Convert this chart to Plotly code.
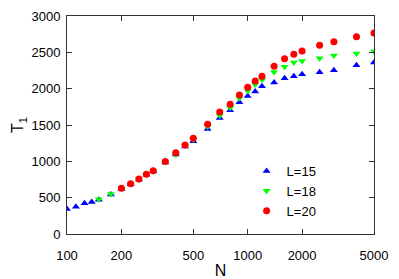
import plotly.graph_objects as go

# L=15
n15 = [100, 112, 125, 137, 150, 175, 200, 225, 250, 275, 300, 350, 400, 450, 500,
       600, 700, 800, 900, 1000, 1100, 1200, 1400, 1600, 1800, 2000, 2500, 3000, 4000, 5000]
t15 = [344, 376, 423, 440, 470, 545, 620, 685, 750, 815, 865, 985, 1095, 1205, 1275,
       1445, 1597, 1703, 1813, 1900, 1962, 2033, 2086, 2144, 2171, 2199, 2227, 2254, 2323, 2359]
# L=18
n18 = [150, 175, 200, 225, 250, 275, 300, 350, 400, 450, 500,
       600, 700, 800, 900, 1000, 1100, 1200, 1400, 1600, 1800, 2000, 2500, 3000, 4000, 5000]
t18 = [478, 551, 625, 690, 752, 818, 868, 990, 1090, 1215, 1300,
       1480, 1632, 1739, 1868, 1969, 2056, 2121, 2231, 2300, 2359, 2382, 2419, 2455, 2485, 2515]
# L=20
n20 = [200, 225, 250, 275, 300, 350, 400, 450, 500,
       600, 700, 800, 900, 1000, 1100, 1200, 1400, 1600, 1800, 2000, 2500, 3000, 4000, 5000]
t20 = [629, 693, 757, 822, 872, 996, 1119, 1225, 1318,
       1510, 1680, 1786, 1914, 2020, 2107, 2171, 2309, 2410, 2474, 2520, 2598, 2644, 2715, 2766]

x_ticks = [100, 200, 500, 1000, 2000, 5000]
y_ticks = [0, 500, 1000, 1500, 2000, 2500, 3000]

fig = go.Figure()
fig.add_trace(go.Scatter(x=n15, y=t15, mode="markers", name="L=15",
                         marker=dict(symbol="triangle-up", size=7, color="#0000ff")))
fig.add_trace(go.Scatter(x=n18, y=t18, mode="markers", name="L=18",
                         marker=dict(symbol="triangle-down", size=7, color="#00ff00")))
fig.add_trace(go.Scatter(x=n20, y=t20, mode="markers", name="L=20",
                         marker=dict(symbol="circle", size=7, color="#ff0000")))

font = dict(family="Liberation Sans, Arial, sans-serif", size=13, color="#000000")

fig.update_layout(
    width=399, height=279,
    margin=dict(l=67, r=25, t=16, b=45),
    paper_bgcolor="white", plot_bgcolor="white",
    font=font,
    showlegend=True,
    legend=dict(x=0.585, y=0.358, xanchor="left", yanchor="top",
                bgcolor="rgba(0,0,0,0)", font=dict(size=13),
                tracegroupgap=0, itemwidth=30),
    xaxis=dict(type="log", range=[2, 3.69897], tickvals=x_ticks,
               ticktext=[str(v) for v in x_ticks], automargin=False,
               showgrid=False, zeroline=False, showline=True, linecolor="#333333",
               linewidth=1, mirror="allticks", ticks="inside", ticklen=5,
               tickcolor="#333333", ticklabelstandoff=9,
               title=dict(text="N")),
    yaxis=dict(range=[0, 3000], tickvals=y_ticks, automargin=False,
               showgrid=False, zeroline=False, showline=True, linecolor="#333333",
               linewidth=1, mirror="allticks", ticks="inside", ticklen=5,
               tickcolor="#333333", ticklabelstandoff=3,
               title=dict(text="T<sub>1</sub>", standoff=3)),
)

fig.write_html("out.html", config={"displayModeBar": False},
               post_script="document.body.style.margin='0';")
